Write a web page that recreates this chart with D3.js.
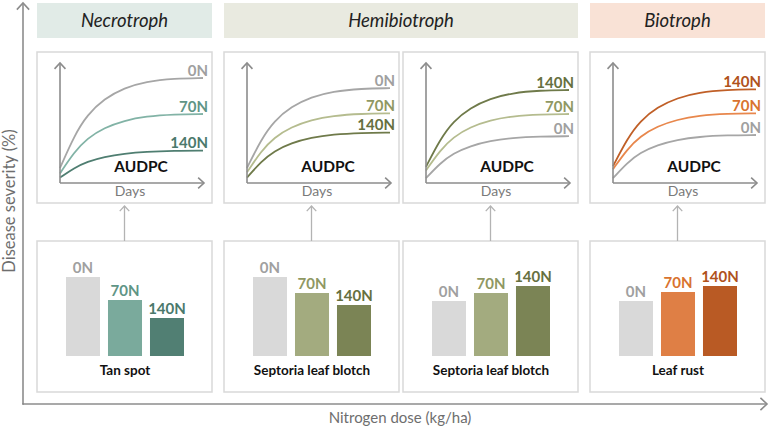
<!DOCTYPE html>
<html lang="en">
<head>
<meta charset="UTF-8">
<title>Nitrogen dose and disease severity</title>
<script src="https://d3js.org/d3.v7.min.js"></script>
<style>
    body { margin: 0; background: #fff; }
    svg { display: block; font-family: Lato, 'Open Sans', sans-serif; }
</style>
</head>
<body>
<script>
// data
const groups = ["Necrotroph", "Hemibiotroph", "Biotroph"];
const groupOfCol = [0, 1, 1, 2];
const diseases = ["Tan spot", "Septoria leaf blotch", "Septoria leaf blotch", "Leaf rust"];
const doses = ["0N", "70N", "140N"];
// relative disease severity bars (AUDPC)
const barValues = [[79, 56, 38], [79, 63, 51], [55, 63, 70], [55, 64, 70]];
// disease progress curves: start and plateau severity (%) per dose
const curveStart = [[12.5, 8, 4.5], [12.5, 9, 4.5], [4, 10.5, 13.5], [4, 11.5, 14]];
const curveEnd = [[87.5, 57.5, 27], [79, 58, 42], [39, 57.5, 77.5], [40, 58, 78]];
// shape of the progress curve (fraction of days, fraction of the rise)
const dayFrac = [0, 0.1, 0.19, 0.31, 0.45, 0.6, 0.8, 1];
const riseFrac = [0, 0.36, 0.59, 0.77, 0.89, 0.96, 0.995, 1];

const groupFill = ["#e1ebe7", "#e9eae0", "#f9e2d6"];
const barColors = [
    ["#d9d9d9", "#7aaa9c", "#517f73"],
    ["#d9d9d9", "#a3ab7f", "#7b8455"],
    ["#d9d9d9", "#a3ab7f", "#7b8455"],
    ["#d9d9d9", "#df7f45", "#b95a24"]
];
const lineColors = [
    ["#a6a6a6", "#82b3a6", "#4f7e71"],
    ["#a6a6a6", "#b5bc8f", "#6f7a4a"],
    ["#a6a6a6", "#b5bc8f", "#6f7a4a"],
    ["#a6a6a6", "#e8874c", "#c05f27"]
];
const labelColors = [
    ["#a0a0a0", "#5f9586", "#4b796c"],
    ["#a0a0a0", "#8f9863", "#66703f"],
    ["#a0a0a0", "#8f9863", "#66703f"],
    ["#a0a0a0", "#d9732f", "#b0521c"]
];

const W = 770, H = 427;
const colW = 175, panelH = 151, groupGap = 12, innerGap = 4, left0 = 37;
const topY = 52, botY = 241;

const svg = d3.select("body").append("svg").attr("width", W).attr("height", H);

const colX = [];
let xx = left0;
groupOfCol.forEach((g, i) => {
    if (i > 0) xx += colW + (g !== groupOfCol[i - 1] ? groupGap : innerGap);
    colX.push(xx);
});

function arrow(g, x1, y1, x2, y2, color, sw, head) {
    g.append("line").attr("x1", x1).attr("y1", y1).attr("x2", x2).attr("y2", y2)
        .attr("stroke", color).attr("stroke-width", sw);
    const a = Math.atan2(y2 - y1, x2 - x1);
    const p = (da) => [x2 - head * Math.cos(a + da), y2 - head * Math.sin(a + da)];
    g.append("path").attr("d", d3.line()([p(0.75), [x2, y2], p(-0.75)]))
        .attr("fill", "none").attr("stroke", color).attr("stroke-width", sw);
}

// main axes
const axisColor = "#8c8c8c";
arrow(svg, 23, 404, 23, 3, axisColor, 1.6, 9);
arrow(svg, 23, 404, 767, 404, axisColor, 1.6, 9);
svg.append("line").attr("x1", 22).attr("x2", 24).attr("y1", 404).attr("y2", 404)
    .attr("stroke", axisColor).attr("stroke-width", 1.6);
svg.append("text").attr("transform", "translate(15,201) rotate(-90)")
    .attr("text-anchor", "middle").attr("font-size", 16.5).attr("fill", "#6e6e6e")
    .text("Disease severity (%)");
svg.append("text").attr("x", 400).attr("y", 423)
    .attr("text-anchor", "middle").attr("font-size", 15).attr("fill", "#6e6e6e")
    .text("Nitrogen dose (kg/ha)");

// group banners
groups.forEach((name, gi) => {
    const cols = groupOfCol.map((g, i) => g === gi ? i : -1).filter(i => i >= 0);
    const x0 = colX[cols[0]], x1 = colX[cols[cols.length - 1]] + colW;
    svg.append("rect").attr("x", x0).attr("y", 3).attr("width", x1 - x0).attr("height", 35)
        .attr("fill", groupFill[gi]);
    svg.append("text").attr("x", (x0 + x1) / 2).attr("y", 27)
        .attr("text-anchor", "middle").attr("font-size", 18.5).attr("font-style", "italic")
        .attr("fill", "#222").text(name);
});

const xDays = d3.scaleLinear().domain([0, 1]).range([23, 166]);
const ySev = d3.scaleLinear().domain([0, 100]).range([131, 11]);
const xBar = d3.scaleBand().domain(doses).range([29, 147]).paddingInner(0.19);
const yBar = d3.scaleLinear().domain([0, 100]).range([115, 15]);

diseases.forEach((dis, ci) => {
    // top panel: disease progress curves
    const top = svg.append("g").attr("transform", `translate(${colX[ci]},${topY})`);
    top.append("rect").attr("width", colW).attr("height", panelH)
        .attr("fill", "#fff").attr("stroke", "#d9d9d9").attr("stroke-width", 1.5);

    const line = d3.line().curve(d3.curveBasis)
        .x(d => xDays(d[0])).y(d => ySev(d[1]));
    doses.forEach((dose, k) => {
        const s = curveStart[ci][k], e = curveEnd[ci][k];
        const pts = dayFrac.map((f, j) => [f, s + (e - s) * riseFrac[j]]);
        top.append("path").attr("d", line(pts)).attr("fill", "none")
            .attr("stroke", lineColors[ci][k]).attr("stroke-width", 1.8);
        top.append("text").attr("x", xDays(1) + 5).attr("y", ySev(e) - 2.5)
            .attr("text-anchor", "end").attr("font-size", 15).attr("font-weight", "bold")
            .attr("fill", labelColors[ci][k]).text(dose);
    });

    arrow(top, xDays(0), ySev(0), xDays(0), ySev(100), axisColor, 1.6, 8);
    arrow(top, xDays(0), ySev(0), xDays(1) + 1, ySev(0), axisColor, 1.6, 8);
    top.append("text").attr("x", 104).attr("y", 120).attr("text-anchor", "middle")
        .attr("font-size", 15.5).attr("font-weight", "bold").attr("fill", "#111").text("AUDPC");
    top.append("text").attr("x", 93).attr("y", 144).attr("text-anchor", "middle")
        .attr("font-size", 14).attr("fill", "#7a7a7a").text("Days");

    // bottom panel: AUDPC bars
    const bot = svg.append("g").attr("transform", `translate(${colX[ci]},${botY})`);
    bot.append("rect").attr("width", colW).attr("height", panelH)
        .attr("fill", "#fff").attr("stroke", "#d9d9d9").attr("stroke-width", 1.5);
    bot.selectAll("rect.bar").data(barValues[ci]).join("rect").attr("class", "bar")
        .attr("x", (d, k) => xBar(doses[k])).attr("width", xBar.bandwidth())
        .attr("y", d => yBar(d)).attr("height", d => yBar(0) - yBar(d))
        .attr("fill", (d, k) => barColors[ci][k]);
    bot.selectAll("text.lab").data(barValues[ci]).join("text").attr("class", "lab")
        .attr("x", (d, k) => xBar(doses[k]) + xBar.bandwidth() / 2).attr("y", d => yBar(d) - 4)
        .attr("text-anchor", "middle").attr("font-size", 15).attr("font-weight", "bold")
        .attr("fill", (d, k) => labelColors[ci][k]).text((d, k) => doses[k]);
    bot.append("text").attr("x", (xBar.range()[0] + xBar.range()[1]) / 2).attr("y", 134)
        .attr("text-anchor", "middle").attr("font-size", 13.5).attr("font-weight", "bold")
        .attr("fill", "#111").text(dis);

    // connector arrow
    const cx = colX[ci] + colW / 2;
    arrow(svg, cx, botY, cx, topY + panelH + 3, "#b3b3b3", 1.3, 7);
});
</script>
</body>
</html>
